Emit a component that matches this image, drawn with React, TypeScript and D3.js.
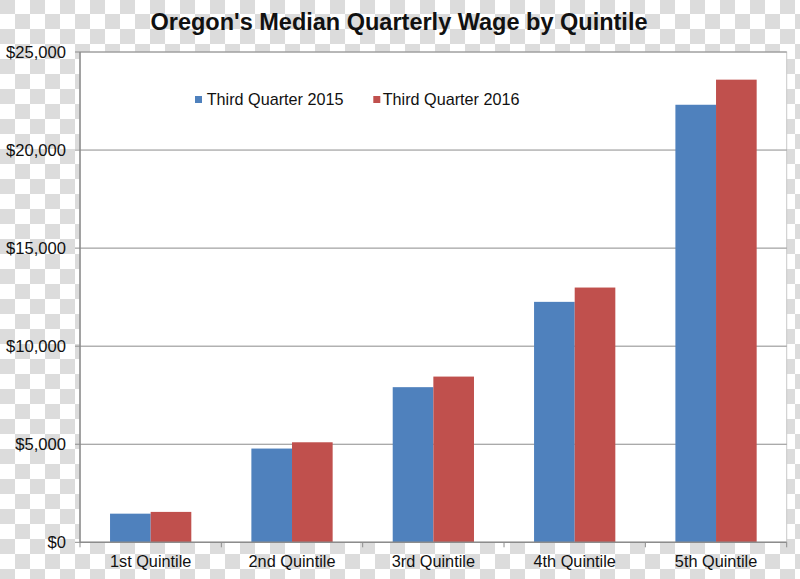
import React from "react";
import * as d3 from "d3";

const categories = ["1st Quintile", "2nd Quintile", "3rd Quintile", "4th Quintile", "5th Quintile"];
const seriesNames = ["Third Quarter 2015", "Third Quarter 2016"];
const q3_2015 = [1460, 4780, 7910, 12260, 22310];
const q3_2016 = [1550, 5100, 8450, 12990, 23590];
const yTicks = [0, 5000, 10000, 15000, 20000, 25000];
const colors = ["#4F81BD", "#C0504D"];

const W = 800;
const H = 579;
const margin = { left: 80, right: 13.3, top: 52, bottom: 36.7 };

export default function App() {
  const x0 = d3
    .scaleBand<string>()
    .domain(categories)
    .range([margin.left, W - margin.right])
    .paddingInner(0.425)
    .paddingOuter(0.2125);
  const x1 = d3.scaleBand<string>().domain(seriesNames).range([0, x0.bandwidth()]);
  const y = d3.scaleLinear().domain([0, 25000]).range([H - margin.bottom, margin.top]);
  const fmt = (v: number) => "$" + d3.format(",")(v);
  const series = [q3_2015, q3_2016];
  const step = x0.step();
  const plotL = margin.left;
  const plotR = W - margin.right;
  const y0 = y(0);

  return (
    <svg
      width={W}
      height={H}
      style={{ position: "absolute", left: 0, top: 0, fontFamily: "Arial, 'Liberation Sans', sans-serif" }}
    >
      <defs>
        <pattern id="checker" width="30" height="30" patternUnits="userSpaceOnUse" x="0" y="-1">
          <rect width="30" height="30" fill="#ffffff" />
          <rect x="0" y="0" width="15" height="15" fill="#dcdcdc" />
          <rect x="15" y="15" width="15" height="15" fill="#dcdcdc" />
        </pattern>
      </defs>
      <rect width={W} height={H} fill="url(#checker)" />
      <rect x={plotL} y={margin.top} width={plotR - plotL} height={y0 - margin.top} fill="#ffffff" stroke="#c8c8c8" strokeWidth={1} />
      <text x={399} y={30} textAnchor="middle" fontSize={23.5} fontWeight="bold" fill="#111">
        Oregon's Median Quarterly Wage by Quintile
      </text>
      {yTicks.map((t) => (
        <g key={t}>
          {t > 0 && <line x1={plotL} x2={plotR} y1={y(t)} y2={y(t)} stroke="#8c8c8c" strokeWidth={1} />}
          <line x1={plotL - 5} x2={plotL} y1={y(t)} y2={y(t)} stroke="#8c8c8c" strokeWidth={1} />
          <text x={66} y={y(t) + 6} textAnchor="end" fontSize={16.6} fill="#111">
            {fmt(t)}
          </text>
        </g>
      ))}
      {categories.map((c, i) => (
        <g key={c}>
          {series.map((s, k) => (
            <rect
              key={k}
              x={(x0(c) as number) + (x1(seriesNames[k]) as number)}
              y={y(s[i])}
              width={x1.bandwidth()}
              height={y0 - y(s[i])}
              fill={colors[k]}
            />
          ))}
          <text x={(x0(c) as number) + x0.bandwidth() / 2} y={567} textAnchor="middle" fontSize={16.3} fill="#111">
            {c}
          </text>
        </g>
      ))}
      {d3.range(categories.length + 1).map((k) => (
        <line key={k} x1={plotL + k * step} x2={plotL + k * step} y1={y0} y2={y0 + 5} stroke="#8c8c8c" strokeWidth={1} />
      ))}
      <line x1={plotL} x2={plotR} y1={y0} y2={y0} stroke="#8c8c8c" strokeWidth={1.5} />
      <line x1={plotL} x2={plotL} y1={margin.top} y2={y0} stroke="#8c8c8c" strokeWidth={1.5} />
      <g>
        <rect x={195} y={96} width={7} height={7} fill={colors[0]} />
        <text x={206.7} y={105} fontSize={16.2} fill="#111">{seriesNames[0]}</text>
        <rect x={373.3} y={96} width={7} height={7} fill={colors[1]} />
        <text x={382.7} y={105} fontSize={16.2} fill="#111">{seriesNames[1]}</text>
      </g>
    </svg>
  );
}
